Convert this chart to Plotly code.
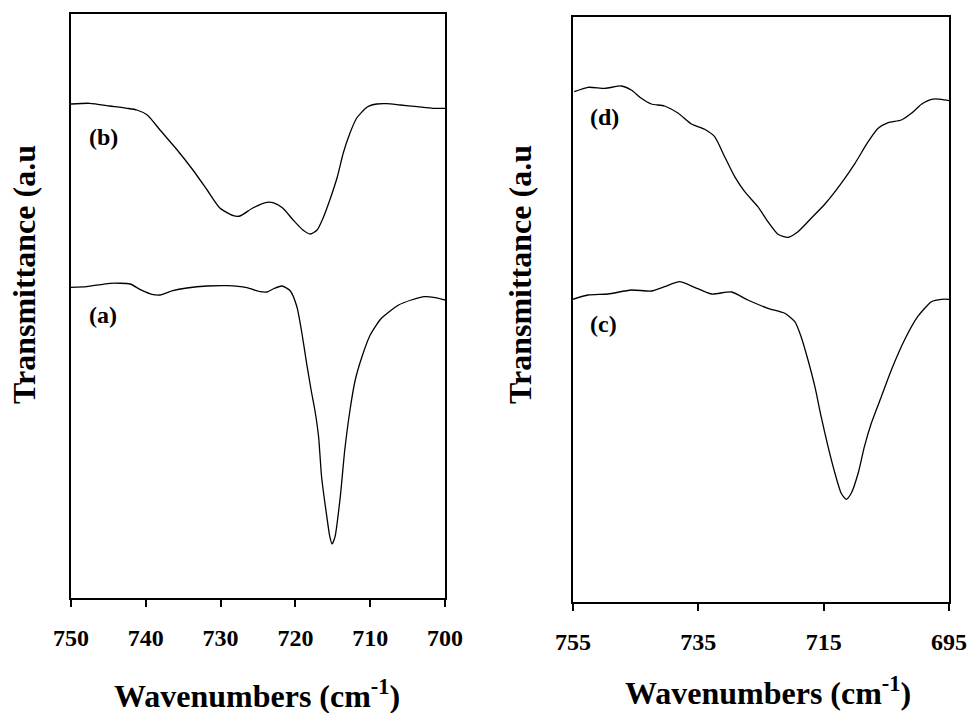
import plotly.graph_objects as go

# ---------------- data ----------------
# Left panel: wavenumber (cm^-1) and transmittance (arbitrary units)
wn_b = [750.0, 747.5, 744.8, 742.5, 741.2, 739.8, 738.1, 735.8, 733.7, 731.8, 730.1, 728.3,
        727.4, 725.7, 723.8, 723.0, 721.7, 720.3, 719.0, 718.0, 717.1, 716.3, 715.4, 714.4,
        713.6, 712.7, 711.8, 710.4, 709.1, 707.8, 706.0, 703.7, 701.6, 700.0]
t_b = [494.0, 494.7, 492.0, 489.7, 488.0, 483.0, 468.0, 448.0, 428.0, 408.0, 390.0, 382.3,
       382.0, 390.0, 395.7, 395.3, 390.0, 378.0, 368.0, 364.0, 368.0, 380.0, 398.0, 421.0,
       445.0, 465.0, 480.0, 491.0, 494.0, 494.3, 493.0, 491.3, 489.7, 489.7]

wn_a = [750.0, 747.9, 744.8, 742.1, 740.8, 739.0, 738.1, 736.4, 734.5, 731.8, 729.1, 726.5,
        724.7, 723.8, 723.0, 721.8, 720.7, 719.8, 719.2, 718.5, 717.9, 717.4, 716.9, 716.5,
        715.8, 715.4, 715.1, 714.7, 714.0, 713.4, 712.7, 712.0, 711.1, 710.0, 708.5, 706.2,
        704.5, 702.7, 701.3, 700.0]
t_a = [310.7, 311.3, 314.7, 314.0, 308.7, 303.3, 303.0, 307.3, 310.0, 312.0, 312.3, 310.3,
       306.3, 306.0, 309.0, 312.0, 307.3, 291.3, 268.0, 234.7, 208.0, 188.0, 161.3, 121.3,
       81.3, 61.3, 54.0, 61.3, 101.3, 148.0, 188.0, 218.0, 241.3, 263.0, 279.7, 293.0,
       298.0, 301.3, 300.3, 298.0]

# Right panel
wn_d = [754.8, 752.6, 749.9, 747.3, 745.7, 744.1, 742.5, 740.4, 738.2, 736.1, 734.0, 732.4,
        730.8, 729.2, 727.6, 725.5, 723.9, 722.3, 720.7, 719.1, 717.0, 714.8, 712.2, 710.0,
        707.9, 706.3, 704.7, 702.6, 701.0, 699.4, 697.8, 696.2, 695.0]
t_d = [510.3, 514.7, 513.7, 516.0, 512.0, 503.7, 498.0, 496.0, 488.7, 478.0, 472.7, 465.3,
       445.3, 425.3, 410.3, 395.3, 380.3, 367.7, 364.7, 370.3, 383.7, 398.0, 418.7, 438.7,
       460.3, 473.7, 479.3, 482.0, 488.7, 497.7, 502.7, 502.7, 501.3]

wn_c = [755.0, 752.6, 749.4, 745.7, 742.5, 740.4, 738.0, 735.6, 732.9, 729.7, 727.1, 723.9,
        721.2, 719.6, 718.6, 717.5, 716.4, 715.4, 714.3, 713.2, 712.2, 711.4, 710.6, 709.5,
        708.5, 707.4, 705.8, 704.2, 702.1, 700.0, 697.8, 696.2, 695.0]
t_c = [302.7, 307.0, 308.0, 312.0, 311.0, 315.3, 320.3, 314.7, 308.0, 310.0, 302.0, 293.7,
       288.7, 280.3, 265.3, 242.0, 215.3, 185.3, 155.3, 128.7, 108.7, 102.7, 108.7, 128.7,
       155.3, 178.7, 205.3, 232.0, 262.0, 285.3, 300.3, 302.7, 302.7]

left_ticks = [750, 740, 730, 720, 710, 700]
right_ticks = [755, 735, 715, 695]
curve_labels = ["(a)", "(b)", "(c)", "(d)"]
x_title = "Wavenumbers (cm<sup>-1</sup>)"
y_title = "Transmittance (a.u"

# ---------------- figure ----------------
W, H = 968, 713
FONT = "Liberation Serif, Times New Roman, serif"

fig = go.Figure()
line = dict(color="black", width=1.3, shape="spline", smoothing=0.6)
fig.add_trace(go.Scatter(x=wn_b, y=t_b, mode="lines", line=line, xaxis="x", yaxis="y", showlegend=False))
fig.add_trace(go.Scatter(x=wn_a, y=t_a, mode="lines", line=line, xaxis="x", yaxis="y", showlegend=False))
fig.add_trace(go.Scatter(x=wn_d, y=t_d, mode="lines", line=line, xaxis="x2", yaxis="y2", showlegend=False))
fig.add_trace(go.Scatter(x=wn_c, y=t_c, mode="lines", line=line, xaxis="x2", yaxis="y2", showlegend=False))

def px_x(p):
    return p / W

def px_y(p):
    return (H - p) / H

axis_common = dict(showline=True, linecolor="black", linewidth=1.6, mirror=True,
                   showgrid=False, zeroline=False, automargin=False)
tickfont = dict(family=FONT, size=24, color="black", weight="bold")

fig.update_layout(
    template="none",
    width=W, height=H,
    margin=dict(l=0, r=0, t=0, b=0, pad=0),
    paper_bgcolor="white", plot_bgcolor="white",
    xaxis=dict(domain=[px_x(71), px_x(445)], range=[750, 700], tickvals=left_ticks,
               ticks="outside", ticklen=7, tickwidth=1.6, tickcolor="black",
               tickfont=tickfont, ticklabelstandoff=10, anchor="y", **axis_common),
    yaxis=dict(domain=[px_y(598), px_y(14)], range=[0, 584], showticklabels=False,
               ticks="", anchor="x", **axis_common),
    xaxis2=dict(domain=[px_x(573), px_x(949)], range=[755, 695], tickvals=right_ticks,
                ticks="outside", ticklen=7, tickwidth=1.6, tickcolor="black",
                tickfont=tickfont, ticklabelstandoff=10, anchor="y2", **axis_common),
    yaxis2=dict(domain=[px_y(602), px_y(17)], range=[0, 585], showticklabels=False,
                ticks="", anchor="x2", **axis_common),
)

title_font = dict(family=FONT, size=32, color="black", weight="bold")
label_font = dict(family=FONT, size=24, color="black", weight="bold")

annotations = [
    # axis titles
    dict(text=x_title, x=px_x(257), y=px_y(694), font=title_font),
    dict(text=x_title, x=px_x(768), y=px_y(691), font=title_font),
    dict(text=y_title, x=px_x(24), y=px_y(275), font=title_font, textangle=-90),
    dict(text=y_title, x=px_x(520), y=px_y(275), font=title_font, textangle=-90),
    # curve labels
    dict(text=curve_labels[1], x=px_x(87), y=px_y(137), font=label_font, xanchor="left"),
    dict(text=curve_labels[0], x=px_x(87), y=px_y(315), font=label_font, xanchor="left"),
    dict(text=curve_labels[3], x=px_x(588), y=px_y(117), font=label_font, xanchor="left"),
    dict(text=curve_labels[2], x=px_x(588), y=px_y(324), font=label_font, xanchor="left"),
]
for a in annotations:
    a.setdefault("xanchor", "center")
    a.update(xref="paper", yref="paper", yanchor="middle", showarrow=False)
fig.update_layout(annotations=annotations)

fig.write_html("out.html")
